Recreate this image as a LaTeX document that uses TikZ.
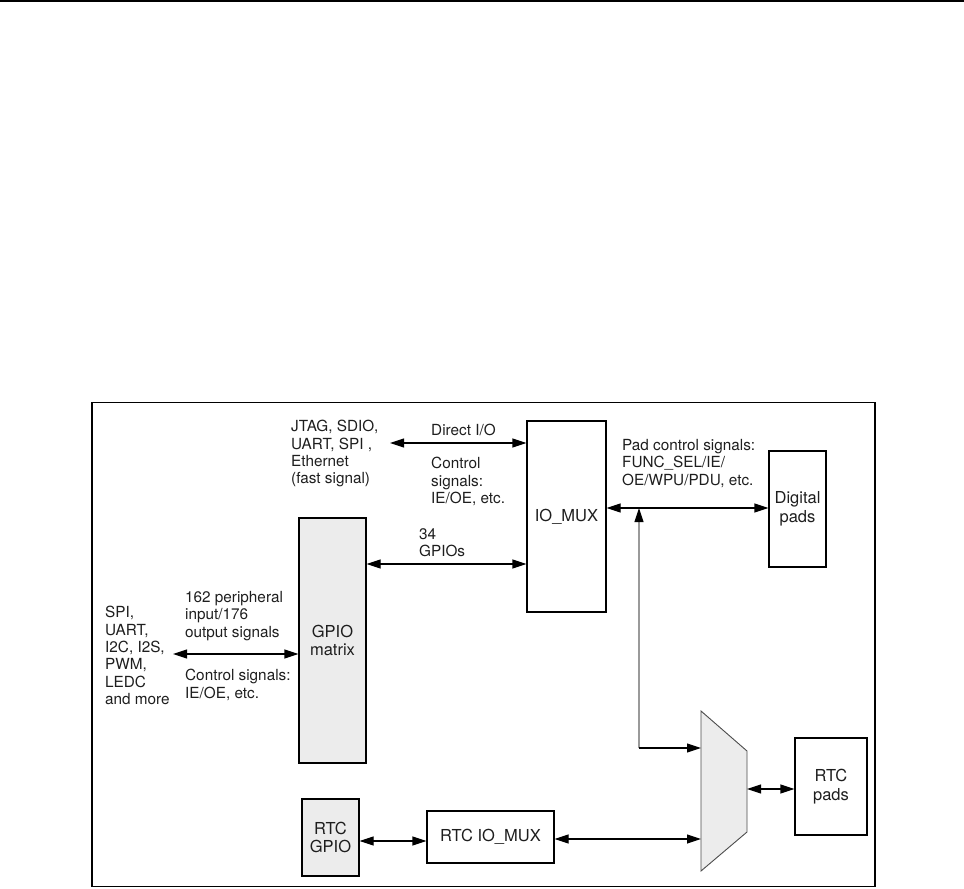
\documentclass[tikz,border=0pt]{standalone}
\usepackage{fontspec}
\setmainfont{TeX Gyre Heros}
\usetikzlibrary{arrows.meta}
\definecolor{txt}{HTML}{1E1E1E}
\definecolor{shade}{HTML}{ECECEC}
\definecolor{lgray}{HTML}{9A9A9A}
\newcommand{\lblfont}{\fontsize{15.3}{17.4}\selectfont}
\newcommand{\boxfont}{\fontsize{16.5}{18.5}\selectfont}
\begin{document}
\begin{tikzpicture}[x=1pt,y=-1pt,
  box/.style={draw=black, line width=1.1pt, inner sep=0pt, align=center, font=\boxfont, text=txt},
  lbl/.style={inner sep=0pt, anchor=north west, align=left, font=\lblfont, text=txt},
  dbl/.style={line width=1.1pt, {Triangle[length=14pt,width=9pt]}-{Triangle[length=14pt,width=9pt]}},
  sgl/.style={line width=1.1pt, -{Triangle[length=14pt,width=9pt]}}]
\useasboundingbox (0,0) rectangle (964,889);
% top rule and frame
\draw[line width=2pt] (0,1) -- (964,1);
\draw[line width=1.1pt] (92,402.5) rectangle (875,886.5);
% boxes
\node[box, minimum width=79pt, minimum height=191pt] (iomux) at (566.5,516.5) {IO\_MUX};
\node[box, fill=shade, minimum width=67pt, minimum height=245pt] (gpio) at (332.5,640.5) {GPIO\\matrix};
\node[box, minimum width=57pt, minimum height=116pt] (dpads) at (797.5,509) {Digital\\pads};
\node[box, minimum width=72pt, minimum height=97pt] (rtcpads) at (831,786.5) {RTC\\pads};
\node[box, fill=shade, minimum width=57pt, minimum height=77pt] (rtcgpio) at (330.5,837.5) {RTC\\GPIO};
\node[box, minimum width=127pt, minimum height=52pt] (rtcmux) at (490.5,837) {RTC IO\_MUX};
% multiplexer
\draw[fill=shade, draw=black!70, line width=0.9pt] (701,711) -- (747,751) -- (747,832) -- (701,871) -- cycle;
\coordinate (muxin1) at (701,748);
\coordinate (muxin2) at (701,839);
\coordinate (muxout) at (747,789);
% labels
\node[lbl] (tjtag) at (291,420) {JTAG, SDIO,\\UART, SPI ,\\Ethernet\\(fast signal)};
\node[lbl] (tdio) at (431,424) {Direct I/O};
\node[lbl] (tctl1) at (431,457) {Control\\signals:\\IE/OE, etc.};
\node[lbl] (tgpios) at (419,528) {34\\GPIOs};
\node[lbl] (tpad) at (622,439) {Pad control signals:\\FUNC\_SEL/IE/\\OE/WPU/PDU, etc.};
\node[lbl] (tspi) at (105,606) {SPI,\\UART,\\I2C, I2S,\\PWM,\\LEDC\\and more};
\node[lbl] (tperi) at (185,591) {162 peripheral\\input/176\\output signals};
\node[lbl] (tctl2) at (185,669) {Control signals:\\IE/OE, etc.};
% connectors
\coordinate (dio) at (390,443);
\draw[dbl] (dio) -- (iomux.west |- dio);
\draw[dbl] (gpio.east |- 0,564) -- (iomux.west |- 0,564);
\coordinate (periph) at (173,654);
\draw[dbl] (periph) -- (gpio.west |- periph);
\draw[dbl] (iomux.east |- 0,508) -- (dpads.west |- 0,508);
\coordinate (jn) at (639,508);
\coordinate (corner) at (639,748);
\draw[lgray, line width=1.1pt, -{Triangle[length=14pt,width=9pt,color=black]}] (corner) -- (jn);
\draw[sgl] (corner) -- (muxin1);
\draw[dbl] (muxout) -- (rtcpads.west |- muxout);
\draw[dbl] (rtcgpio.east |- 0,841) -- (rtcmux.west |- 0,841);
\draw[dbl] (rtcmux.east |- muxin2) -- (muxin2);
\end{tikzpicture}
\end{document}
